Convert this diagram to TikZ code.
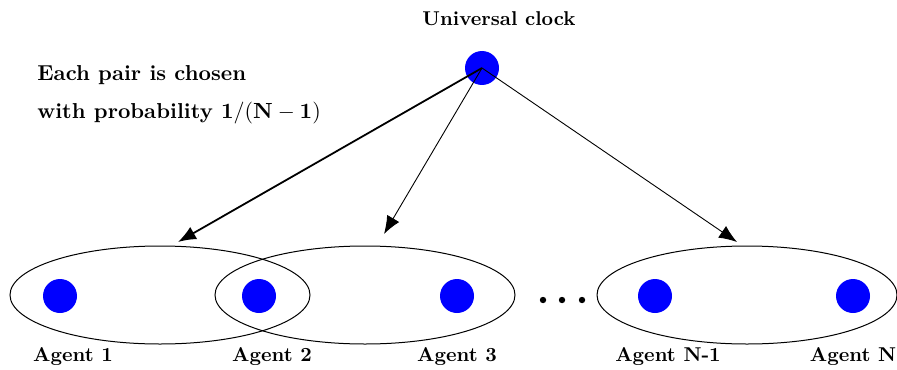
\documentclass[tikz,border=0pt]{standalone}
\usetikzlibrary{arrows.meta}
\begin{document}
\begin{tikzpicture}[x=0.5pt,y=-0.5pt,
  agent/.style={circle,fill=blue,inner sep=0pt,minimum size=17pt},
  pairell/.style={draw,line width=0.5pt},
  lbl/.style={font=\bfseries,inner sep=0pt},
  biglbl/.style={font=\fontsize{10.8}{13}\selectfont\bfseries,inner sep=0pt,anchor=west},
  clockarrow/.style={-{Latex[length=9pt,width=7pt]},line width=0.45pt},
  dot/.style={circle,fill=black,inner sep=0pt,minimum size=3.2pt}]
\useasboundingbox (0,0) rectangle (897,369);
% ellipses
\draw[pairell] (160,295) ellipse [x radius=150, y radius=49];
\draw[pairell] (365,295) ellipse [x radius=150, y radius=49];
\draw[pairell] (747,295) ellipse [x radius=150, y radius=49];
% clock
\node[agent] (clock) at (482,68) {};
\node[lbl] (clocklbl) at (499,19) {Universal clock};
\node[biglbl] (txt1) at (37,75) {Each pair is chosen};
\node[biglbl] (txt2) at (37,113) {with probability $\mathbf{1/(N-1)}$};
% agents
\node[agent] (a1) at (60,296) {};
\node[agent] (a2) at (259,296) {};
\node[agent] (a3) at (457,296) {};
\node[agent] (a4) at (655,296) {};
\node[agent] (a5) at (853,296) {};
\node[dot] (d1) at (543,300) {};
\node[dot] (d2) at (562,300) {};
\node[dot] (d3) at (582,300) {};
\node[lbl] (l1) at (73,357) {Agent 1};
\node[lbl] (l2) at (272,357) {Agent 2};
\node[lbl] (l3) at (457,357) {Agent 3};
\node[lbl] (l4) at (668,357) {Agent N-1};
\node[lbl] (l5) at (853,357) {Agent N};
% arrow targets
\coordinate (t1) at (178,242);
\coordinate (t2) at (384,234);
\coordinate (t3) at (737,242);
\draw[clockarrow,line width=0.9pt] (clock.center) -- (t1);
\draw[clockarrow] (clock.center) -- (t2);
\draw[clockarrow] (clock.center) -- (t3);
\end{tikzpicture}
\end{document}
